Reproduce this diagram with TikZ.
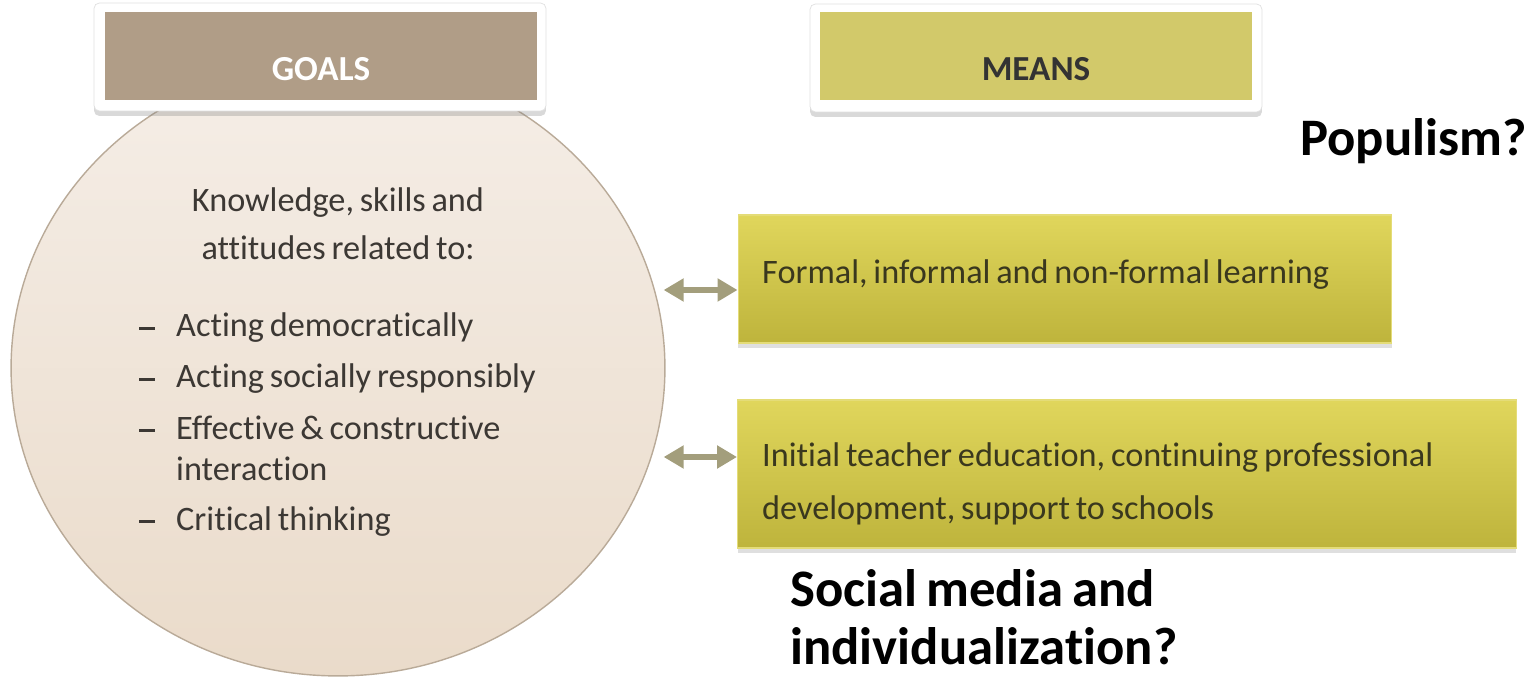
\documentclass[tikz,border=0pt]{standalone}
\usepackage{fontspec}
\setmainfont{Carlito}[Ligatures={TeX,NoCommon},WordSpace=0.75]
\usetikzlibrary{arrows.meta,shadows,shapes.geometric,calc}
\definecolor{goalbrown}{RGB}{176,157,135}
\definecolor{meanyellow}{RGB}{210,201,106}
\definecolor{circtop}{RGB}{245,238,231}
\definecolor{circbot}{RGB}{234,219,202}
\definecolor{circline}{RGB}{185,170,152}
\definecolor{circtext}{RGB}{60,56,52}
\definecolor{boxtop}{RGB}{224,214,92}
\definecolor{boxbot}{RGB}{190,180,60}
\definecolor{boxline}{RGB}{228,220,120}
\definecolor{boxtext}{RGB}{58,56,30}
\definecolor{arrowcol}{RGB}{163,158,124}
\begin{document}
\begin{tikzpicture}[x=0.02cm,y=-0.02cm,
    frame/.style={fill=white,draw=black!12,line width=0.4pt,rounded corners=3pt,
        minimum width=9.04cm,minimum height=2.16cm,
        drop shadow={shadow xshift=0pt,shadow yshift=-0.1cm,opacity=0.3}},
    headbox/.style={minimum width=8.64cm,minimum height=1.76cm},
    headtext/.style={font=\fontsize{20}{24}\selectfont\bfseries},
    meanbox/.style={top color=boxtop,bottom color=boxbot,draw=boxline,line width=0.6pt,
        drop shadow={shadow xshift=0pt,shadow yshift=-0.1cm,opacity=0.25}},
    meantext/.style={font=\fontsize{19.5}{24}\selectfont,text=boxtext,anchor=base west},
    link/.style={{Triangle[width=0.44cm,length=0.4cm]}-{Triangle[width=0.44cm,length=0.4cm]},
        line width=0.12cm,draw=arrowcol},
    goaltext/.style={font=\fontsize{19.5}{24}\selectfont,text=circtext},
    question/.style={font=\fontsize{30}{34}\selectfont\bfseries,anchor=base west,inner sep=0pt}]
    % Page frame
    \useasboundingbox (0,0) rectangle (1537,678);

    % Goals circle
    \node[ellipse,minimum width=13.08cm,minimum height=12.32cm,top color=circtop,
        bottom color=circbot,draw=circline,line width=0.8pt] (goalcircle) at (338,368) {};

    % Headers
    \node[frame] (goalsframe) at (320,57) {};
    \node[headbox,fill=goalbrown] (goalsbox) at (321,56) {};
    \node[headtext,text=white,anchor=base] (goalstext) at (321,81) {GOALS};
    \node[frame] (meansframe) at (1036,58) {};
    \node[headbox,fill=meanyellow] (meansbox) at (1036,56) {};
    \node[headtext,text=black!80,anchor=base] (meanstext) at (1036,81) {MEANS};

    % Text inside the circle
    \node[goaltext,anchor=base] (intro1) at (338,212) {Knowledge, skills and};
    \node[goaltext,anchor=base] (intro2) at (338,260) {attitudes related to:};
    \foreach \y/\t [count=\i] in {337/Acting democratically,388/Acting socially responsibly,
        439/Effective \& constructive,530/Critical thinking}
    {
        \node[goaltext,anchor=base,inner sep=0pt] (dash\i) at (147,\y) {\rule[0.15cm]{0.32cm}{0.05cm}};
        \node[goaltext,anchor=base west] (item\i) at (170,\y) {\t};
    }
    \node[goaltext,anchor=base west] (item3b) at (170,480) {interaction};

    % Means boxes
    \node[meanbox,minimum width=13.08cm,minimum height=2.56cm] (formal) at (1065,279) {};
    \node[meantext] (formaltext) at (756,284) {Formal, informal and non-formal learning};
    \node[meanbox,minimum width=15.58cm,minimum height=2.96cm] (teacher) at (1127,474) {};
    \node[meantext] (teacher1) at (756,466) {Initial teacher education, continuing professional};
    \node[meantext] (teacher2) at (756,519) {development, support to schools};

    % Double arrows
    \draw[link] ($(goalcircle.east |- formal.west)+(-2,11)$) -- ($(formal.west)+(0,11)$);
    \draw[link] ($(goalcircle.east |- teacher.west)+(-2,-17)$) -- ($(teacher.west)+(0,-17)$);

    % Questions
    \node[question] (populism) at (1300,156) {Populism?};
    \node[question] (social1) at (790,606) {Social media and};
    \node[question] (social2) at (790,664) {individualization?};
\end{tikzpicture}
\end{document}
